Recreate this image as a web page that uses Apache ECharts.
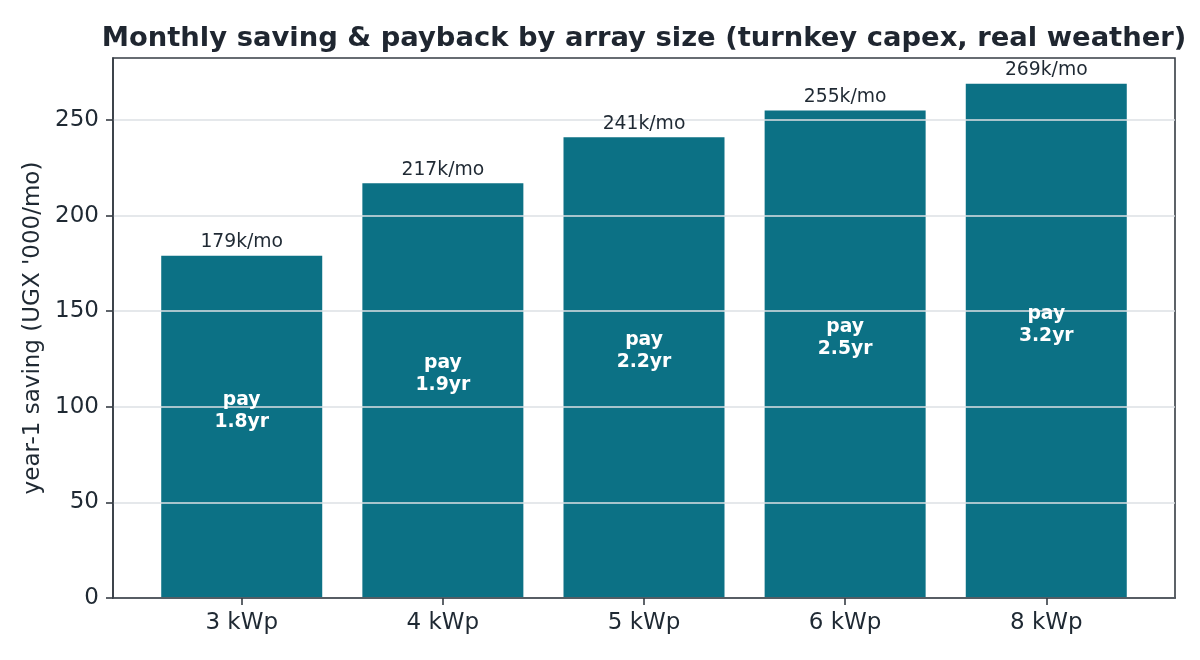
<!DOCTYPE html>
<html>
<head>
<meta charset="utf-8">
<script src="https://cdn.jsdelivr.net/npm/echarts@6/dist/echarts.min.js"></script>
<style>
html,body{margin:0;padding:0;background:#fff;}
#chart{width:1200px;height:660px;}
</style>
</head>
<body>
<div id="chart"></div>
<script>
const categories = ['3 kWp', '4 kWp', '5 kWp', '6 kWp', '8 kWp'];
const saving = [179, 217, 241, 255, 269];
const payback = ['1.8', '1.9', '2.2', '2.5', '3.2'];
const yTicks = [0, 50, 100, 150, 200, 250];
const xTicks = [0, 1, 2, 3, 4];

const textColor = '#1f2933';
const spine = '#363d44';
const barColor = '#0c7185';
const FONT = 'DejaVu Sans';

const chart = echarts.init(document.getElementById('chart'), null, {renderer: 'canvas'});
chart.setOption({
  backgroundColor: '#ffffff',
  animation: false,
  textStyle: {fontFamily: FONT},
  title: {
    text: 'Monthly saving & payback by array size (turnkey capex, real weather)',
    left: 639,
    textAlign: 'center',
    top: 20,
    textStyle: {fontFamily: FONT, fontSize: 27.4, fontWeight: 'bold', color: '#1f2630'}
  },
  grid: {
    left: 113, right: 25, top: 58, bottom: 62,
    show: true, borderColor: spine, borderWidth: 1.6, backgroundColor: 'transparent'
  },
  xAxis: {
    type: 'value',
    min: -0.64,
    max: 4.64,
    z: 3,
    axisLine: {show: true, onZero: false, lineStyle: {color: spine, width: 1.6}},
    axisTick: {show: true, length: 7, lineStyle: {color: spine, width: 1.6}, customValues: xTicks},
    axisLabel: {
      show: true, margin: 14, fontFamily: FONT, fontSize: 23, color: textColor,
      customValues: xTicks,
      formatter: (v) => categories[Math.round(v)]
    },
    splitLine: {show: false}
  },
  yAxis: {
    type: 'value',
    min: 0,
    max: 282.45,
    z: 3,
    name: "year-1 saving (UGX '000/mo)",
    nameLocation: 'middle',
    nameGap: 66,
    nameTextStyle: {fontFamily: FONT, fontSize: 23, color: textColor},
    axisLine: {show: true, onZero: false, lineStyle: {color: spine, width: 1.6}},
    axisTick: {show: true, length: 7, lineStyle: {color: spine, width: 1.6}, customValues: yTicks},
    axisLabel: {show: true, margin: 14, fontFamily: FONT, fontSize: 23, color: textColor, customValues: yTicks},
    splitLine: {show: true, lineStyle: {color: '#dde1e5', width: 1.5}}
  },
  series: [
    {
      type: 'bar',
      z: 2,
      barWidth: 161,
      data: saving.map((v, i) => [i, v]),
      itemStyle: {color: barColor},
      silent: true
    },
    {
      type: 'scatter',
      z: 5,
      symbolSize: 0,
      itemStyle: {opacity: 1},
      data: saving.map((v, i) => [i, v]),
      label: {
        show: true, position: 'top', distance: 4, opacity: 1,
        fontFamily: FONT, fontSize: 18.75, color: textColor,
        formatter: (p) => saving[p.dataIndex] + 'k/mo'
      },
      silent: true
    },
    {
      type: 'scatter',
      z: 5,
      symbolSize: 0,
      itemStyle: {opacity: 1},
      data: saving.map((v, i) => [i, v / 2]),
      label: {
        show: true, position: 'top', distance: 0, offset: [0, 6], opacity: 1,
        fontFamily: FONT, fontSize: 18.75, fontWeight: 'bold', color: '#ffffff',
        lineHeight: 22, align: 'center',
        formatter: (p) => 'pay\n' + payback[p.dataIndex] + 'yr'
      },
      silent: true
    }
  ]
});
</script>
</body>
</html>
